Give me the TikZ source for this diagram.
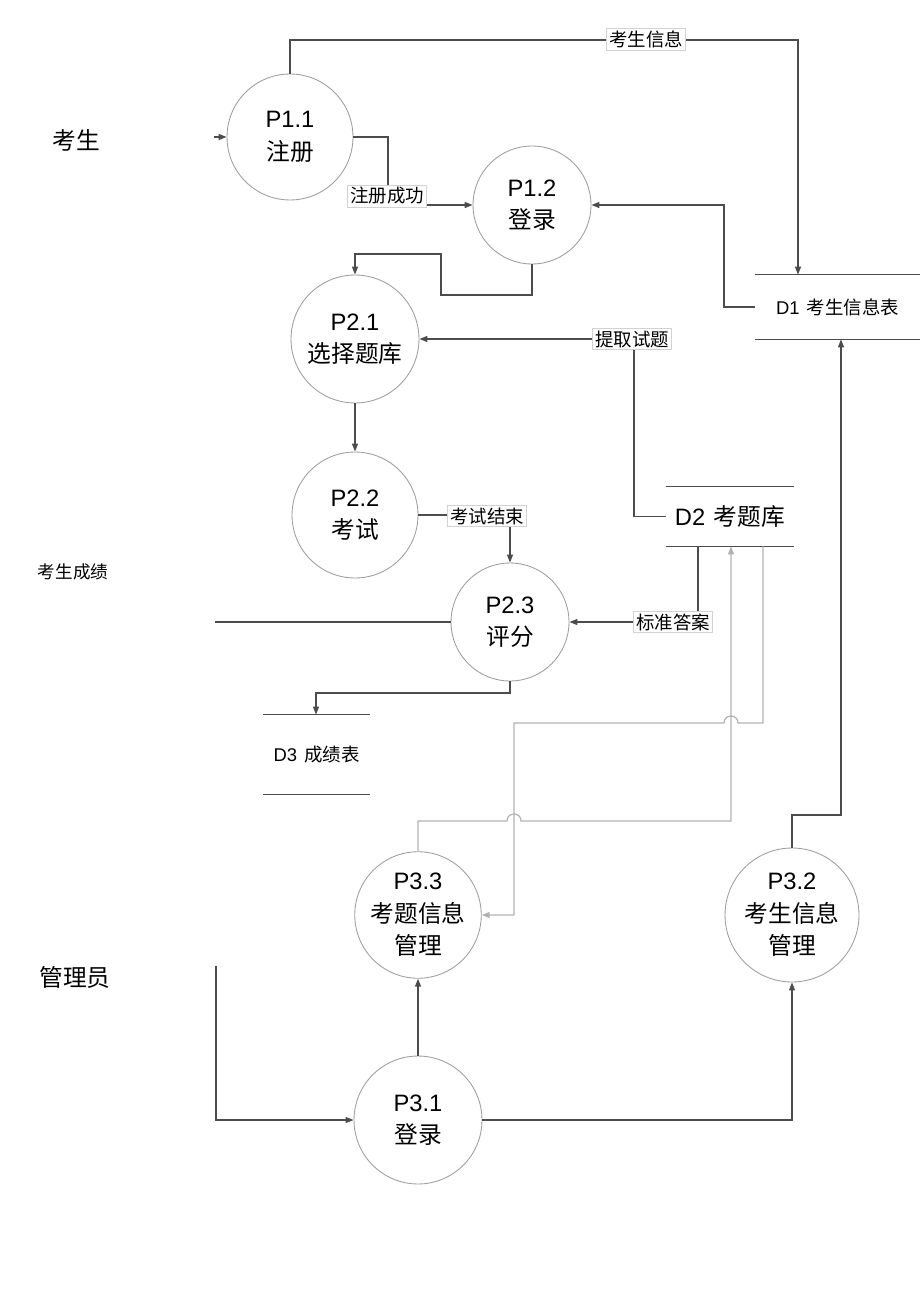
\documentclass[tikz,border=0pt]{standalone}
\usepackage{fontspec}
\setmainfont{Liberation Sans}
\newfontfamily\cjk{Noto Sans CJK SC}
\usetikzlibrary{arrows.meta}

\tikzset{
  proc/.style={circle, draw=gray!75, line width=0.5pt, minimum size=#1, inner sep=0pt,
    align=center, font=\fontsize{13.5}{18.5}\selectfont},
  store/.style={inner sep=0pt, font=\fontsize{10.5}{12}\selectfont},
  flowlbl/.style={draw=gray!35, fill=white, inner sep=1.3pt, font=\cjk\fontsize{10.5}{12}\selectfont},
  line/.style={draw=black!70, line width=0.7pt},
  flow/.style={line, -{Triangle[length=1.6mm,width=1.2mm]}},
  gflow/.style={draw=black!30, line width=0.7pt, -{Triangle[length=1.6mm,width=1.2mm]}},
  ext/.style={font=\cjk\fontsize{13.5}{16}\selectfont}
}

\begin{document}
\begin{tikzpicture}[x=0.02cm, y=-0.02cm]
\useasboundingbox (0,0) rectangle (920,1311);

\node[ext] (cand) at (76,140) {考生};
\node[ext] (admin) at (75,977) {管理员};
\node[ext, font=\cjk\fontsize{10}{12}\selectfont] (score) at (73,572) {考生成绩};

\node[proc=2.52cm] (P11) at (290,137) {P1.1\\{\cjk 注册}};
\node[proc=2.36cm] (P12) at (532,205) {P1.2\\{\cjk 登录}};
\node[proc=2.56cm] (P21) at (355,339) {P2.1\\{\cjk 选择题库}};
\node[proc=2.52cm] (P22) at (355,515) {P2.2\\{\cjk 考试}};
\node[proc=2.36cm] (P23) at (510,622) {P2.3\\{\cjk 评分}};
\node[proc=2.48cm] (P33) at (418,915) {P3.3\\{\cjk 考题信息}\\{\cjk 管理}};
\node[proc=2.68cm] (P32) at (792,915) {P3.2\\{\cjk 考生信息}\\{\cjk 管理}};
\node[proc=2.56cm] (P31) at (418,1120) {P3.1\\{\cjk 登录}};

\node[store, minimum width=3.3cm, minimum height=1.28cm] (D1) at (837.5,307) {D1\hspace{4pt}{\cjk 考生信息表}};
\node[store, minimum width=2.56cm, minimum height=1.18cm, font=\fontsize{13.5}{16}\selectfont] (D2) at (730,516.5) {D2\hspace{5pt}{\cjk 考题库}};
\node[store, minimum width=2.14cm, minimum height=1.58cm] (D3) at (316.5,754.5) {D3\hspace{4pt}{\cjk 成绩表}};
\foreach \d in {D1,D2,D3}
  \draw[line] (\d.north west) -- (\d.north east) (\d.south west) -- (\d.south east);

\coordinate (candIn) at (214,137);
\coordinate (scoreOut) at (215,622);
\coordinate (adminIn) at (216,966);

\draw[flow] (candIn) -- (P11.west);
\draw[flow] (P11.north) -- (290,40) -- (798,40) -- (798,0 |- D1.north);
\draw[flow] (P11.east) -- (388,137) -- (388,205) -- (P12.west);
\draw[flow] (D1.west) -- (724,307) -- (724,205) -- (P12.east);
\draw[flow] (P12.south) -- (532,295) -- (441,295) -- (441,254) -- (355,254) -- (P21.north);
\draw[flow] (D2.west) -- (634,516.5) -- (634,339) -- (P21.east);
\draw[flow] (P21.south) -- (P22.north);
\draw[flow] (P22.east) -- (510,515) -- (P23.north);
\draw[flow] (698,0 |- D2.south) -- (698,622) -- (P23.east);
\draw[line] (scoreOut) -- (P23.west);
\draw[flow] (P23.south) -- (510,693) -- (316,693) -- (316,0 |- D3.north);

\draw[gflow] (P33.north) -- (418,821) -- (507,821) .. controls (507,811.7) and (521,811.7) .. (521,821)
  -- (731,821) -- (731,0 |- D2.south);
\draw[gflow] (763,0 |- D2.south) -- (763,723) -- (738,723) .. controls (738,713.7) and (724,713.7) .. (724,723)
  -- (514,723) -- (514,915) -- (P33.east);

\draw[flow] (adminIn) -- (216,1120) -- (P31.west);
\draw[flow] (P31.north) -- (P33.south);
\draw[flow] (P31.east) -- (792,1120) -- (P32.south);
\draw[flow] (P32.north) -- (792,815) -- (841,815) -- (841,0 |- D1.south);

\node[flowlbl] (lInfo) at (646,39) {考生信息};
\node[flowlbl] (lReg) at (387,196) {注册成功};
\node[flowlbl] (lFetch) at (632,339) {提取试题};
\node[flowlbl] (lEnd) at (487,516) {考试结束};
\node[flowlbl] (lKey) at (673,622) {标准答案};
\end{tikzpicture}
\end{document}
